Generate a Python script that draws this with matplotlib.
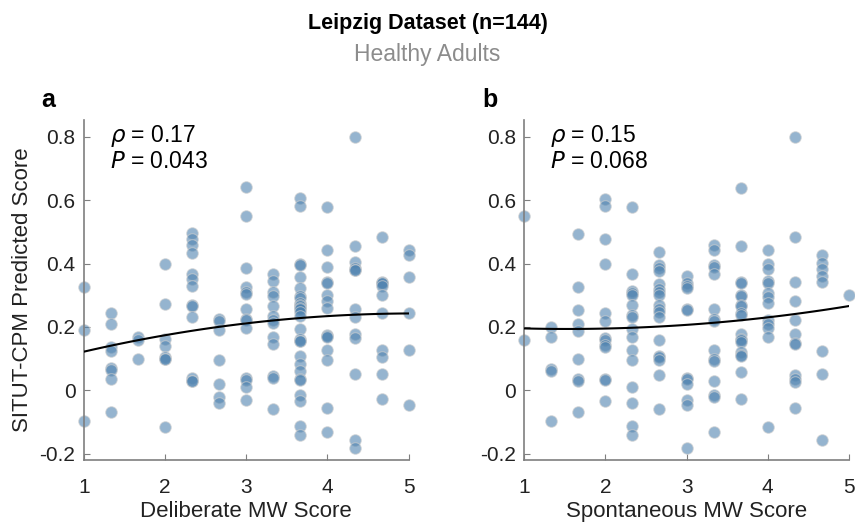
import numpy as np
import matplotlib
matplotlib.use("Agg")
import matplotlib.pyplot as plt

plt.rcParams['font.family'] = ['Liberation Sans', 'DejaVu Sans']

# deliberate MW score -> predicted score
delib = {
    1.0: [0.325, 0.19, -0.097],
    4/3: [0.245, 0.21, 0.137, 0.123, 0.07, 0.063, 0.034, -0.068],
    5/3: [0.168, 0.158, 0.10],
    2.0: [0.40, 0.272, 0.161, 0.141, 0.104, 0.10, 0.10, -0.116],
    7/3: [0.495, 0.479, 0.458, 0.434, 0.368, 0.35, 0.33, 0.27, 0.265, 0.231, 0.038, 0.03, 0.03],
    8/3: [0.226, 0.22, 0.19, 0.094, 0.02, -0.021, -0.04],
    3.0: [0.642, 0.551, 0.386, 0.326, 0.31, 0.305, 0.255, 0.226, 0.222, 0.197, 0.04, 0.032, 0.01, -0.032],
    10/3: [0.368, 0.344, 0.31, 0.298, 0.265, 0.234, 0.223, 0.212, 0.168, 0.147, 0.046, 0.038, -0.058],
    11/3: [0.606, 0.581, 0.40, 0.394, 0.358, 0.323, 0.297, 0.292, 0.276, 0.27, 0.265, 0.26, 0.255, 0.246,
           0.234, 0.192, 0.163, 0.156, 0.156, 0.107, 0.084, 0.06, 0.036, 0.032, -0.014, -0.034, -0.114, -0.142],
    4.0: [0.577, 0.442, 0.389, 0.343, 0.338, 0.302, 0.282, 0.258, 0.174, 0.17, 0.168, 0.126, 0.095, -0.055, -0.132],
    13/3: [0.80, 0.456, 0.405, 0.386, 0.38, 0.378, 0.255, 0.231, 0.179, 0.166, 0.05, -0.156, -0.181],
    14/3: [0.484, 0.343, 0.34, 0.338, 0.33, 0.30, 0.245, 0.126, 0.105, 0.05, -0.027],
    5.0: [0.444, 0.428, 0.358, 0.245, 0.126, -0.047],
}

# spontaneous MW score -> predicted score
spont = {
    1.0: [0.55, 0.16],
    4/3: [0.20, 0.168, 0.068, 0.062, -0.098],
    5/3: [0.493, 0.326, 0.253, 0.21, 0.187, 0.098, 0.035, 0.028, -0.068],
    2.0: [0.605, 0.581, 0.477, 0.40, 0.245, 0.219, 0.165, 0.16, 0.142, 0.137, 0.036, 0.032, -0.035],
    7/3: [0.577, 0.368, 0.312, 0.308, 0.30, 0.268, 0.237, 0.232, 0.192, 0.168, 0.126, 0.095, 0.01, -0.04, -0.114, -0.142],
    8/3: [0.435, 0.395, 0.386, 0.377, 0.334, 0.32, 0.31, 0.30, 0.268, 0.255, 0.247, 0.231, 0.158, 0.108, 0.104, 0.095, 0.047, -0.058],
    3.0: [0.36, 0.34, 0.328, 0.323, 0.256, 0.252, 0.04, 0.036, 0.021, -0.032, -0.047, -0.181],
    10/3: [0.46, 0.442, 0.395, 0.39, 0.368, 0.255, 0.224, 0.218, 0.128, 0.098, 0.092, 0.028, -0.016, -0.021, -0.132],
    11/3: [0.64, 0.456, 0.342, 0.338, 0.302, 0.298, 0.27, 0.266, 0.245, 0.239, 0.176, 0.162, 0.158, 0.153, 0.121, 0.112, 0.108, 0.058, -0.028],
    4.0: [0.442, 0.40, 0.384, 0.345, 0.34, 0.307, 0.295, 0.274, 0.221, 0.208, 0.195, 0.168, -0.116],
    13/3: [0.80, 0.484, 0.342, 0.281, 0.221, 0.177, 0.15, 0.145, 0.047, 0.035, 0.026, -0.055],
    14/3: [0.428, 0.402, 0.384, 0.36, 0.342, 0.124, 0.05, -0.156],
    5.0: [0.30],
}

stats = [("0.17", "0.043"), ("0.15", "0.068")]
xlabels = ["Deliberate MW Score", "Spontaneous MW Score"]
letters = ["a", "b"]

fig = plt.figure(figsize=(8.55, 5.22), dpi=100)
fig.text(0.5, 0.955, "Leipzig Dataset (n=144)", ha="center", va="center",
         fontsize=15.5, fontweight="bold")
fig.text(0.5, 0.895, "Healthy Adults", ha="center", va="center", fontsize=16.5, color="#8c8c8c")

lefts = [0.098, 0.613]
for i, d in enumerate([delib, spont]):
    ax = fig.add_axes([lefts[i], 0.119, 0.38, 0.651])
    x = np.concatenate([[k] * len(v) for k, v in d.items()])
    y = np.concatenate([v for v in d.values()])
    ax.scatter(x, y, s=70, color="#4f83b0", alpha=0.6, edgecolors="#d0d0d0",
               linewidths=0.8, clip_on=False, zorder=2)
    c = np.polyfit(x, y, 2)
    xx = np.linspace(1, 5, 100)
    ax.plot(xx, np.polyval(c, xx), color="black", lw=1.5, zorder=3)
    ax.set_xlim(1, 5)
    ax.set_ylim(-0.22, 0.853)
    ax.set_xticks([1, 2, 3, 4, 5])
    ax.set_yticks([-0.2, 0, 0.2, 0.4, 0.6, 0.8])
    ax.set_yticklabels(["-0.2", "0", "0.2", "0.4", "0.6", "0.8"])
    for s in ["top", "right"]:
        ax.spines[s].set_visible(False)
    for s in ["left", "bottom"]:
        ax.spines[s].set_color("#7f7f7f")
        ax.spines[s].set_linewidth(1.2)
    ax.tick_params(direction="in", length=4, color="#7f7f7f", labelsize=15,
                   labelcolor="#222222")
    ax.tick_params(axis="x", pad=13)
    ax.tick_params(axis="y", pad=6)
    ax.set_xlabel(xlabels[i], fontsize=16, color="#222222", labelpad=3)
    if i == 0:
        ax.set_ylabel("SITUT-CPM Predicted Score", fontsize=16, color="#222222", labelpad=5)
    ax.text(0.08, 0.99, r"$\rho$ = " + stats[i][0] + "\n" + r"$P$ = " + stats[i][1],
            transform=ax.transAxes, ha="left", va="top", fontsize=16.5, linespacing=1.05)
    ax.text(-0.13, 1.06, letters[i], transform=ax.transAxes, fontsize=18,
            fontweight="bold", ha="left", va="center")

fig.savefig("out.png", dpi=100)
